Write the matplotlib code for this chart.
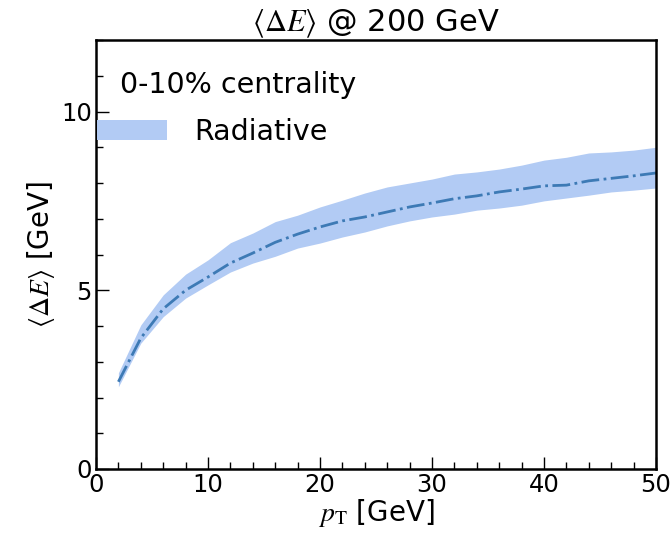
import matplotlib
matplotlib.use("Agg")
import matplotlib.pyplot as plt
from matplotlib.ticker import MultipleLocator

plt.rcParams['font.family'] = ['DejaVu Sans']
plt.rcParams['mathtext.fontset'] = 'stix'

pt = [2, 4, 6, 8, 10, 12, 14, 16, 18, 20, 22, 24, 26, 28, 30, 32, 34, 36, 38, 40, 42, 44, 46, 48, 50]
dE_mid = [2.44, 3.66, 4.48, 5.0, 5.37, 5.76, 6.04, 6.34, 6.57, 6.77, 6.94, 7.05, 7.19, 7.33, 7.44, 7.56,
          7.64, 7.75, 7.83, 7.92, 7.94, 8.06, 8.13, 8.2, 8.28]
dE_hi = [2.69, 4.03, 4.87, 5.45, 5.85, 6.33, 6.6, 6.92, 7.1, 7.33, 7.52, 7.72, 7.89, 8.0, 8.11, 8.25,
         8.31, 8.39, 8.5, 8.64, 8.72, 8.84, 8.87, 8.92, 9.0]
dE_lo = [2.30, 3.52, 4.26, 4.78, 5.15, 5.51, 5.76, 5.95, 6.18, 6.32, 6.49, 6.63, 6.8, 6.94, 7.05, 7.13,
         7.24, 7.3, 7.38, 7.5, 7.58, 7.66, 7.75, 7.8, 7.86]

fig = plt.figure(figsize=(6.72, 5.34), dpi=100)
ax = fig.add_axes([96/672, 65/534, 560/672, 429/534])

ax.fill_between(pt, dE_lo, dE_hi, color='#b2cbf4', linewidth=0, label='Radiative')
ax.plot(pt, dE_mid, linestyle='-.', color='#3d7ab5', linewidth=2)

ax.set_xlim(0, 50)
ax.set_ylim(0, 12)
ax.xaxis.set_major_locator(MultipleLocator(10))
ax.xaxis.set_minor_locator(MultipleLocator(2))
ax.yaxis.set_major_locator(MultipleLocator(5))
ax.yaxis.set_minor_locator(MultipleLocator(1))
ax.tick_params(which='both', direction='in', top=False, right=False, labelsize=17.5, width=1)
ax.tick_params(which='major', length=9)
ax.tick_params(which='minor', length=5)
ax.tick_params(axis='x', pad=3)
ax.tick_params(axis='y', pad=3)
for s in ax.spines.values():
    s.set_linewidth(1.8)

ax.set_xlabel(r'$p_{\rm T}$ [GeV]', fontsize=20, labelpad=0)
ax.set_ylabel(r'$\langle\Delta E\rangle$ [GeV]', fontsize=20, labelpad=3)
ax.set_title(r'$\langle\Delta E\rangle$ @ 200 GeV', fontsize=22, pad=1)

ax.text(0.043, 0.895, '0-10% centrality', transform=ax.transAxes, fontsize=20.5, va='center', ha='left')
ax.legend(loc='upper left', bbox_to_anchor=(0.002, 0.818), frameon=False, fontsize=20.5,
          borderaxespad=0, borderpad=0, handlelength=2.45, handleheight=0.73, handletextpad=0.95)

fig.savefig('out.png', dpi=100)
